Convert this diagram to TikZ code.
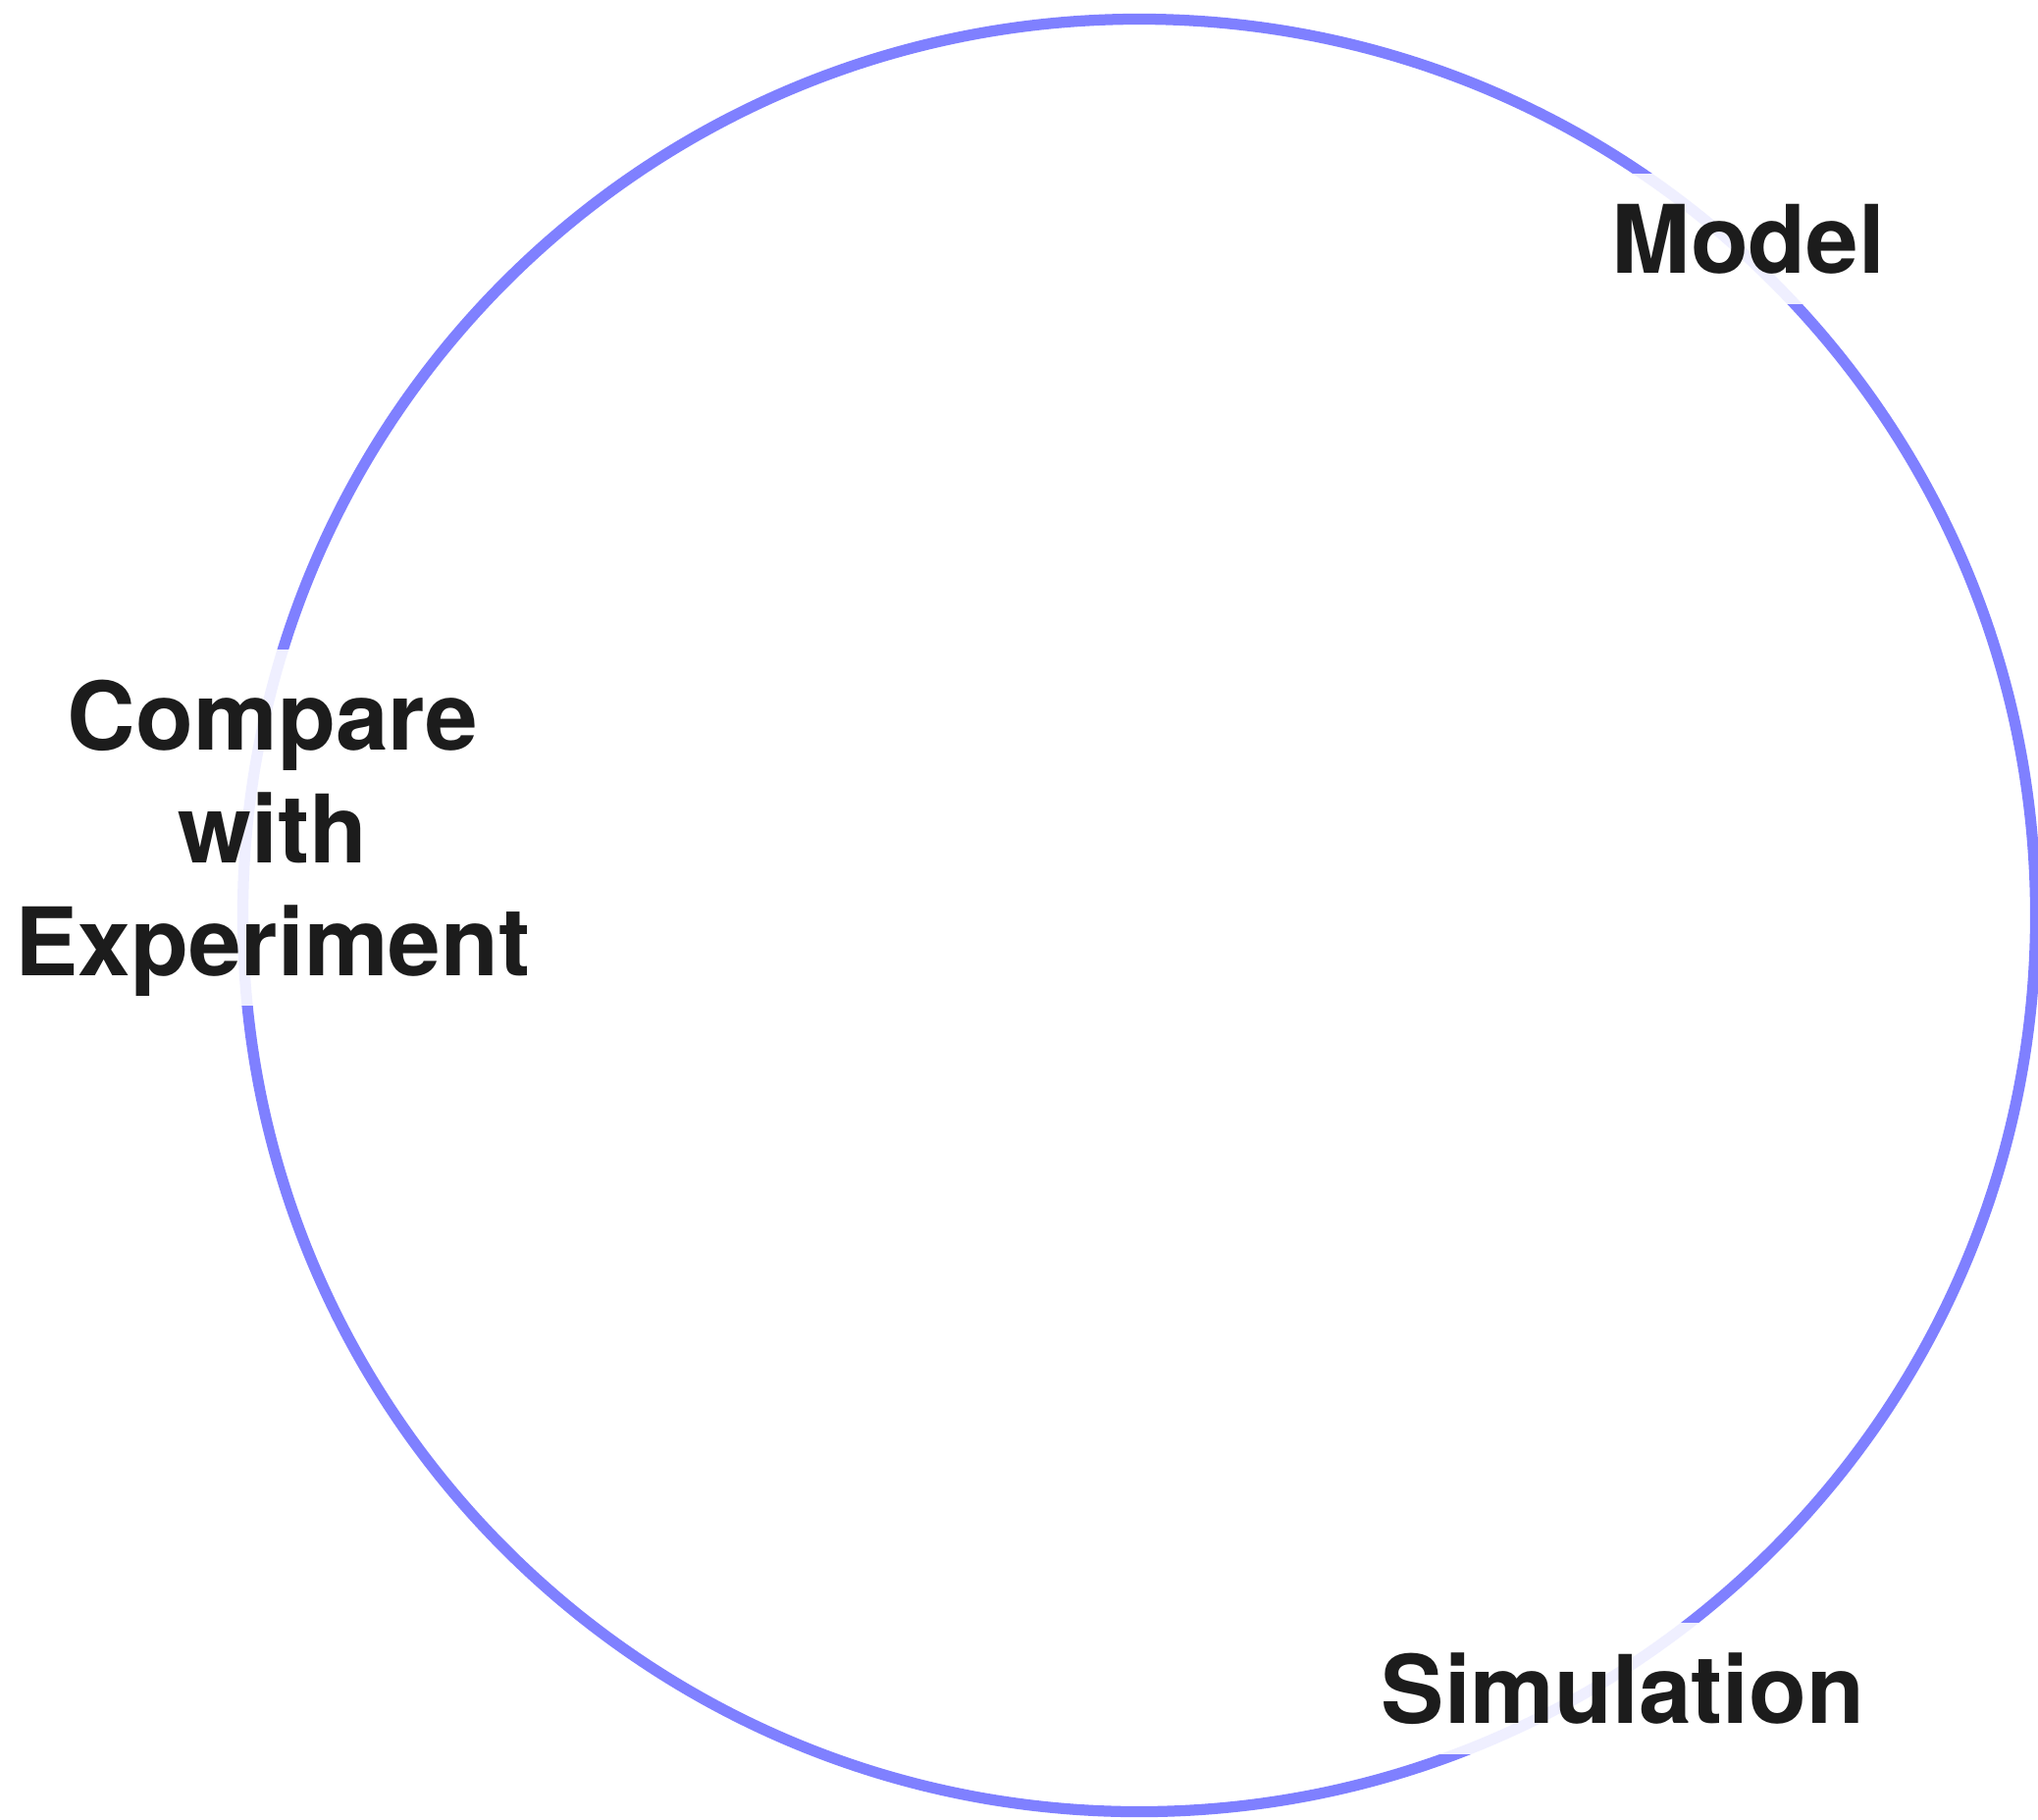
\documentclass[tikz,border=0pt]{standalone}
\usepackage{fontspec}
\setmainfont{TeX Gyre Heros}
\definecolor{loopblue}{RGB}{127,128,255}
\definecolor{labelgrey}{RGB}{28,28,28}
\tikzset{
  loopline/.style = {draw=loopblue, line width=3.2pt},
  stage/.style    = {fill=white, fill opacity=0.88, text opacity=1, text=labelgrey, align=center,
                     font=\fontsize{27.4}{32.7}\selectfont\bfseries, inner xsep=0.33cm, inner ysep=0.31cm, text depth=0pt}
}
\begin{document}
\begin{tikzpicture}[x=0.01cm, y=-0.01cm]
  \useasboundingbox (0,0) rectangle (2077,1854);

  % the loop
  \coordinate (mid) at (1161,933);
  \draw[loopline] (mid) circle[radius=9.13cm];

  % stages on the loop
  \node[stage] (model) at (1782,243.5) {Model};
  \node[stage] (sim)   at (1654,1721)  {Simulation};
  \node[stage] (comp)  at (278,843.5)  {Compare\\with\\Experiment};

\end{tikzpicture}
\end{document}
